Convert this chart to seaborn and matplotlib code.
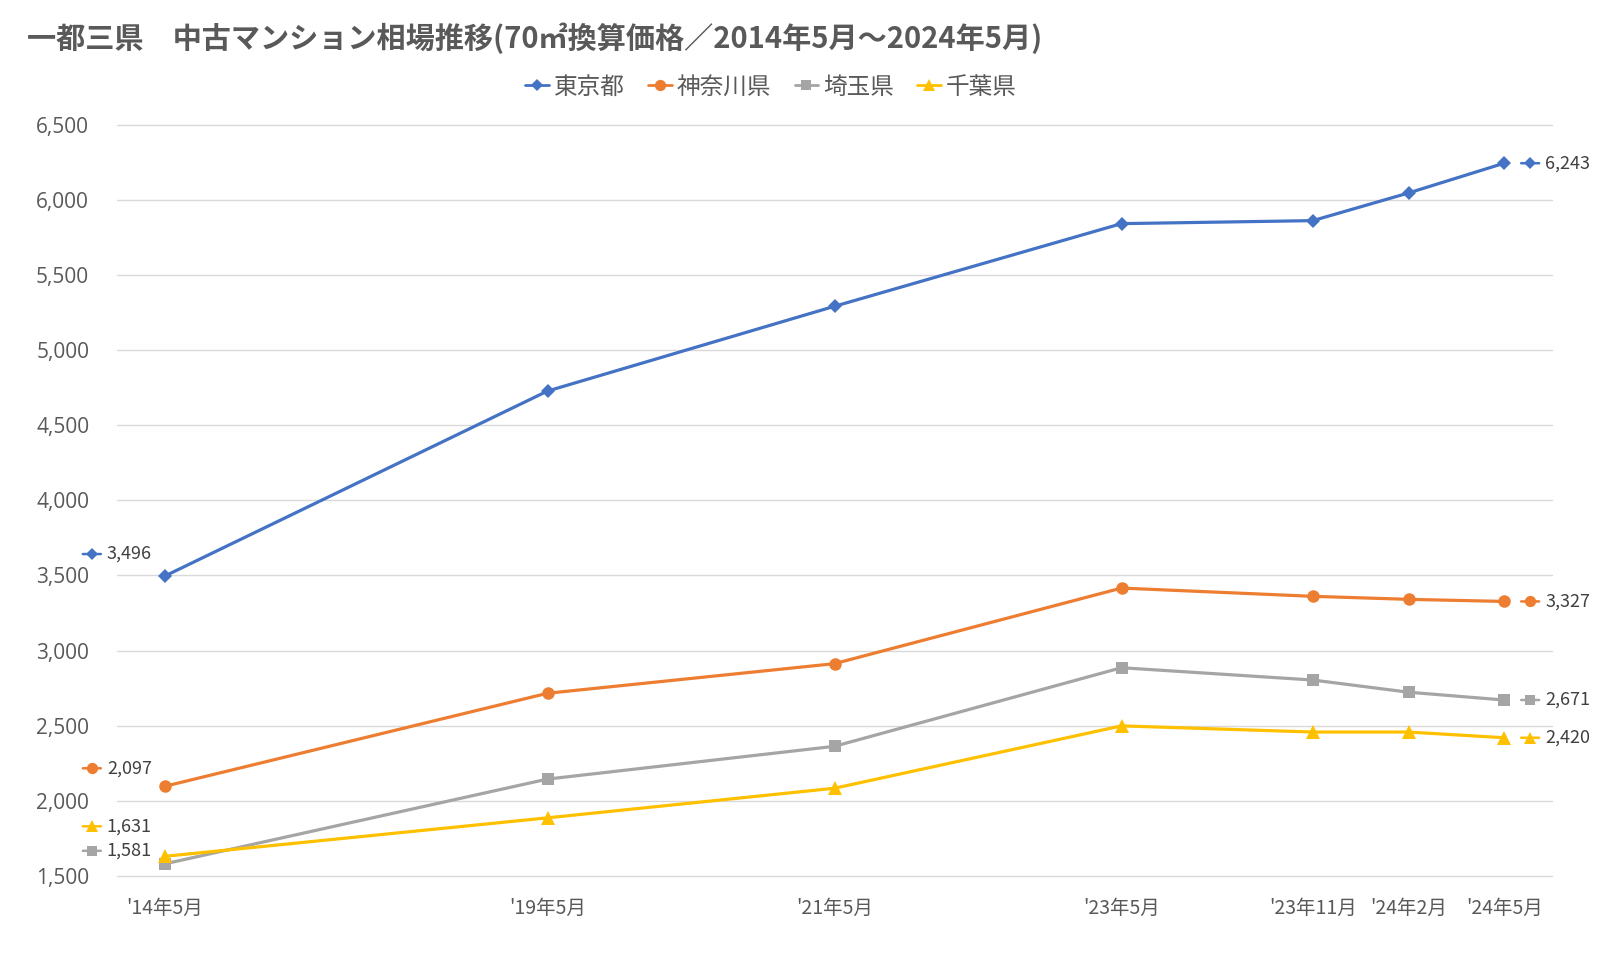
import matplotlib
matplotlib.use("Agg")
import matplotlib.pyplot as plt
import matplotlib.transforms as mtransforms
from matplotlib.lines import Line2D
import pandas as pd
import seaborn as sns

# データ（70㎡換算価格、万円）
periods = ["'14年5月", "'19年5月", "'21年5月", "'23年5月", "'23年11月", "'24年2月", "'24年5月"]
tokyo = [3496, 4727, 5291, 5841, 5861, 6045, 6243]
kanagawa = [2097, 2716, 2913, 3416, 3361, 3341, 3327]
saitama = [1581, 2145, 2363, 2886, 2804, 2723, 2671]
chiba = [1631, 1887, 2084, 2499, 2458, 2458, 2420]
series_names = ["東京都", "神奈川県", "埼玉県", "千葉県"]

# 軸上の位置（元グラフの間隔に合わせる）
x_pos = [0, 4, 7, 10, 12, 13, 14]

colors = ["#4472C4", "#ED7D31", "#A5A5A5", "#FFC000"]
markers = ["D", "o", "s", "^"]
msizes = [7, 9, 8.5, 9.5]
# 左側ラベルの縦ずらし（px）
left_dy = [22, 18, 13, 30]

rows = []
for name, vals in zip(series_names, [tokyo, kanagawa, saitama, chiba]):
    for p, x, v in zip(periods, x_pos, vals):
        rows.append({"地域": name, "時期": p, "x": x, "価格": v})
df = pd.DataFrame(rows)

sns.set_theme(style="white")
plt.rcParams['font.family'] = ['Noto Sans CJK JP', 'DejaVu Sans']

fig = plt.figure(figsize=(16.01, 9.59), dpi=100)
ax = fig.add_axes([117 / 1601, 1 - 876 / 959, (1552 - 117) / 1601, (876 - 124.6) / 959])

for name, c, m, ms in zip(series_names, colors, markers, msizes):
    sub = df[df["地域"] == name]
    sns.lineplot(data=sub, x="x", y="価格", ax=ax, color=c, marker=m, markersize=ms,
                 markeredgewidth=0, linewidth=2.3, legend=False, zorder=3)

ax.set_xlim(-0.5, 14.5)
ax.set_ylim(1500, 6500)
ax.set_yticks(range(1500, 6501, 500))
ax.set_yticklabels([f"{v:,}" for v in range(1500, 6501, 500)], fontsize=15, color="#595959",
                   family=["Open Sans", "DejaVu Sans"])
ax.set_xticks(x_pos)
ax.set_xticklabels(periods, fontsize=14, color="#595959")
ax.tick_params(axis="both", length=0)
ax.tick_params(axis="y", pad=20)
ax.tick_params(axis="x", pad=16)
ax.set_xlabel("")
ax.set_ylabel("")
ax.grid(axis="y", color="#D9D9D9", linewidth=1)
for gl in ax.yaxis.get_gridlines():
    gl.set_clip_on(False)
ax.set_axisbelow(True)
for s in ax.spines.values():
    s.set_visible(False)

# データラベル（始点と終点）
def key_label(x, y, dx, dy, c, m, ms, text):
    tr = mtransforms.offset_copy(ax.transData, fig=fig, x=dx, y=dy, units='dots')
    ax.plot([x], [y], transform=tr, marker=m, color=c, markersize=ms * 0.9,
            markeredgewidth=0, clip_on=False, zorder=4)
    tl = mtransforms.offset_copy(ax.transData, fig=fig, x=dx - 9, y=dy, units='dots')
    tr2 = mtransforms.offset_copy(ax.transData, fig=fig, x=dx + 9, y=dy, units='dots')
    ax.annotate("", xy=(x, y), xycoords=tl, xytext=(x, y), textcoords=tr2,
                arrowprops=dict(arrowstyle="-", color=c, lw=1.8, shrinkA=0, shrinkB=0),
                annotation_clip=False)
    ttxt = mtransforms.offset_copy(ax.transData, fig=fig, x=dx + 15, y=dy, units='dots')
    ax.text(x, y, text, transform=ttxt, fontsize=13, color="#404040",
            ha="left", va="center", clip_on=False)

for vals, c, m, ms, ldy in zip([tokyo, kanagawa, saitama, chiba], colors, markers, msizes, left_dy):
    key_label(x_pos[0], vals[0], -73, ldy, c, m, ms, f"{vals[0]:,}")
    key_label(x_pos[-1], vals[-1], 26, 0, c, m, ms, f"{vals[-1]:,}")

handles = [Line2D([0], [0], color=c, marker=m, markersize=ms * 0.9, markeredgewidth=0, lw=2)
           for c, m, ms in zip(colors, markers, msizes)]
fig.legend(handles, series_names, loc="center", bbox_to_anchor=(771 / 1601, 1 - 87 / 959),
           ncol=4, frameon=False, fontsize=17, handlelength=1.0, handletextpad=0.2,
           columnspacing=1.0, labelcolor="#595959")

fig.text(27 / 1601, 1 - 38 / 959, "一都三県　中古マンション相場推移(70㎡換算価格／2014年5月～2024年5月)",
         fontsize=21, fontweight="bold", color="#595959", ha="left", va="center")

fig.savefig("out.png", dpi=100)
